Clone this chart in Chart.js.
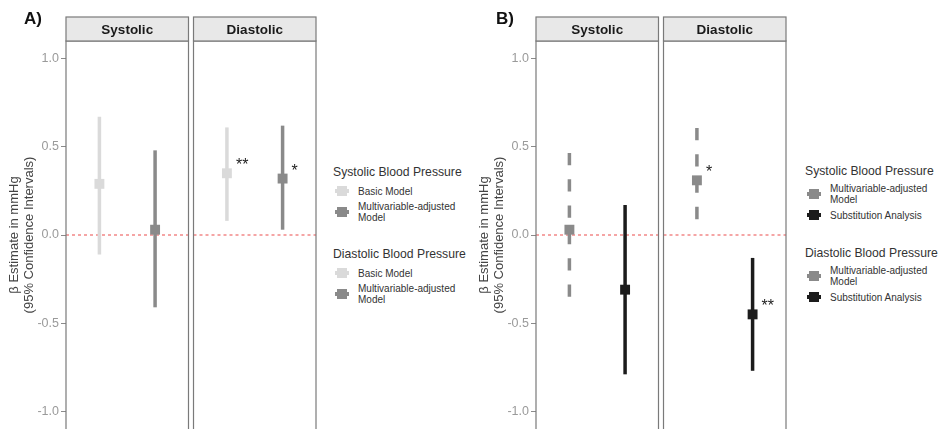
<!DOCTYPE html>
<html>
<head>
<meta charset="utf-8">
<script src="https://cdn.jsdelivr.net/npm/chart.js@4.4.0/dist/chart.umd.min.js"></script>
<style>
body { margin: 0; background: #fff; font-family: Arial, "Liberation Sans", sans-serif; }
#wrap { position: relative; width: 939px; height: 429px; overflow: hidden; }
.panel { position: absolute; top: 0; }
.tag { position: absolute; top: 9px; font-weight: bold; font-size: 17px; color: #111; }
.legend { position: absolute; color: #333; }
.lg-title { font-size: 12.2px; line-height: 15px; margin-bottom: 4px; white-space: nowrap; }
.lg-item { display: flex; align-items: center; margin-bottom: 3px; min-height: 14px; }
.lg-key { position: relative; width: 14px; height: 10px; margin: 0 9px 0 2px; flex: none; }
.lg-key .bar { position: absolute; left: 0; top: 3px; width: 14px; height: 4px; }
.lg-key .sq { position: absolute; left: 2px; top: 0; width: 10px; height: 10px; }
.lg-text { font-size: 10px; line-height: 11px; }
.lg-group { margin-bottom: 24px; }
</style>
</head>
<body>
<div id="wrap">
  <div class="panel" style="left:0"><canvas id="chartA" width="330" height="441"></canvas></div>
  <div class="panel" style="left:470px"><canvas id="chartB" width="330" height="441"></canvas></div>
  <div class="tag" style="left:24px">A)</div>
  <div class="tag" style="left:496px">B)</div>
  <div class="legend" id="legendA" style="left:333px;top:165px"></div>
  <div class="legend" id="legendB" style="left:805px;top:164px"></div>
</div>
<script>
// --- datos ---
const facets = ['Systolic', 'Diastolic'];
const yTicks = [-1.0, -0.5, 0.0, 0.5, 1.0];
const yTitle = ['\u03b2 Estimate in mmHg', '(95% Confidence Intervals)'];
const legendGroups = ['Systolic Blood Pressure', 'Diastolic Blood Pressure'];

// Panel A: modelo basico vs multivariable
const modelsA = ['Basic Model', 'Multivariable-adjusted Model'];
const basicEstA = [0.29, 0.35];
const basicLoA = [-0.11, 0.08];
const basicHiA = [0.67, 0.61];
const basicStarsA = ['', '**'];
const multiEstA = [0.03, 0.32];
const multiLoA = [-0.41, 0.03];
const multiHiA = [0.48, 0.62];
const multiStarsA = ['', '*'];

// Panel B: multivariable vs sustitucion
const modelsB = ['Multivariable-adjusted Model', 'Substitution Analysis'];
const multiEstB = [0.03, 0.31];
const multiLoB = [-0.35, 0.09];
const multiHiB = [0.47, 0.61];
const multiStarsB = ['', '*'];
const substEstB = [-0.31, -0.45];
const substLoB = [-0.79, -0.77];
const substHiB = [0.17, -0.13];
const substStarsB = ['', '**'];

// --- estilo ---
const LIGHT = '#dadada';
const MID = '#8a8a8a';
const DARK = '#1c1c1c';
const FACET_GAP = 0.09;            // hueco entre facetas (unidades de x)
const SPAN = 2.2 + FACET_GAP;      // cada faceta va de 0.4 a 2.6

const seriesA = [
  { name: modelsA[0], est: basicEstA, lo: basicLoA, hi: basicHiA, stars: basicStarsA, color: LIGHT, dash: [] },
  { name: modelsA[1], est: multiEstA, lo: multiLoA, hi: multiHiA, stars: multiStarsA, color: MID, dash: [] }
];
const seriesB = [
  { name: modelsB[0], est: multiEstB, lo: multiLoB, hi: multiHiB, stars: multiStarsB, color: MID, dash: [12.3, 14] },
  { name: modelsB[1], est: substEstB, lo: substLoB, hi: substHiB, stars: substStarsB, color: DARK, dash: [] }
];

function xPos(facet, model) {
  return facet * SPAN + model + 1;
}

// plugin: bordes de panel, tiras de faceta y asteriscos
const facetPlugin = {
  id: 'facetas',
  afterDatasetsDraw(chart) {
    const { ctx, chartArea, scales } = chart;
    const series = chart.options.plugins.facetas.series;
    ctx.save();
    // asteriscos
    ctx.fillStyle = '#222';
    ctx.font = '16px Arial, "Liberation Sans", sans-serif';
    ctx.textAlign = 'left';
    ctx.textBaseline = 'alphabetic';
    series.forEach((s, m) => {
      s.stars.forEach((st, i) => {
        if (!st) return;
        const px = scales.x.getPixelForValue(xPos(i, m)) + 9;
        const py = scales.y.getPixelForValue(s.est[i]) - 3;
        ctx.fillText(st, px, py);
      });
    });
    // bordes
    ctx.strokeStyle = '#7a7a7a';
    ctx.lineWidth = 1.2;
    facets.forEach((f, i) => {
      const l = scales.x.getPixelForValue(i * SPAN + 0.4);
      const r = scales.x.getPixelForValue(i * SPAN + 2.6);
      ctx.strokeRect(l, chartArea.top, r - l, chartArea.bottom - chartArea.top + 5);
      // tira
      ctx.fillStyle = '#e8e8e8';
      ctx.fillRect(l, 17, r - l, chartArea.top - 17);
      ctx.strokeRect(l, 17, r - l, chartArea.top - 17);
      ctx.fillStyle = '#1a1a1a';
      ctx.font = 'bold 13.5px Arial, "Liberation Sans", sans-serif';
      ctx.textAlign = 'center';
      ctx.textBaseline = 'middle';
      ctx.fillText(f, (l + r) / 2, (17 + chartArea.top) / 2 + 1);
    });
    ctx.restore();
  }
};

function buildPanel(canvasId, series) {
  const datasets = [];
  series.forEach((s, m) => {
    datasets.push({
      type: 'scatter',
      data: facets.map((f, i) => ({ x: xPos(i, m), y: s.est[i] })),
      pointStyle: 'rect',
      pointRadius: 7,
      backgroundColor: s.color,
      borderWidth: 0,
      order: 0
    });
    facets.forEach((f, i) => {
      datasets.push({
        type: 'line',
        data: [{ x: xPos(i, m), y: s.lo[i] }, { x: xPos(i, m), y: s.hi[i] }],
        borderColor: s.color,
        borderWidth: 3.5,
        borderDash: s.dash,
        borderCapStyle: 'butt',
        pointRadius: 0,
        fill: false,
        order: 1
      });
    });
  });
  // linea de referencia en 0, por faceta
  facets.forEach((f, i) => {
    datasets.push({
      type: 'line',
      data: [{ x: i * SPAN + 0.4, y: 0 }, { x: i * SPAN + 2.6, y: 0 }],
      borderColor: '#ee6a6a',
      borderWidth: 1.2,
      borderDash: [3, 3],
      pointRadius: 0,
      fill: false,
      order: 2
    });
  });

  return new Chart(document.getElementById(canvasId), {
    type: 'scatter',
    data: { datasets: datasets },
    options: {
      responsive: false,
      animation: false,
      layout: { padding: { top: 41, right: 14, bottom: 12, left: 0 } },
      plugins: {
        legend: { display: false },
        tooltip: { enabled: false },
        facetas: { series: series }
      },
      scales: {
        x: { type: 'linear', display: false, min: 0.4, max: SPAN + 2.6 },
        y: {
          min: -1.1,
          max: 1.1,
          afterBuildTicks: (scale) => { scale.ticks = yTicks.map(v => ({ value: v })); },
          afterFit: (scale) => { scale.width = 66; },
          ticks: {
            color: '#9a9a9a',
            font: { size: 12.5 },
            padding: 2,
            callback: (v) => Number(v).toFixed(1)
          },
          grid: { drawOnChartArea: false, drawTicks: true, tickLength: 5, color: '#8a8a8a' },
          border: { display: false },
          title: {
            display: true,
            text: yTitle,
            color: '#444',
            font: { size: 13, lineHeight: 1.1 },
            padding: { top: 7.5, bottom: 0 }
          }
        }
      }
    },
    plugins: [facetPlugin]
  });
}

function buildLegend(elId, series) {
  const el = document.getElementById(elId);
  legendGroups.forEach((g) => {
    const group = document.createElement('div');
    group.className = 'lg-group';
    const title = document.createElement('div');
    title.className = 'lg-title';
    title.textContent = g;
    group.appendChild(title);
    series.forEach((s) => {
      const item = document.createElement('div');
      item.className = 'lg-item';
      item.innerHTML = `<div class="lg-key"><div class="bar" style="background:${s.color}"></div>` +
        `<div class="sq" style="background:${s.color}"></div></div>`;
      const txt = document.createElement('div');
      txt.className = 'lg-text';
      txt.textContent = s.name.replace('Multivariable-adjusted ', 'Multivariable-adjusted\n');
      txt.style.whiteSpace = 'pre-line';
      item.appendChild(txt);
      group.appendChild(item);
    });
    el.appendChild(group);
  });
}

buildPanel('chartA', seriesA);
buildPanel('chartB', seriesB);
buildLegend('legendA', seriesA);
buildLegend('legendB', seriesB);
</script>
</body>
</html>
